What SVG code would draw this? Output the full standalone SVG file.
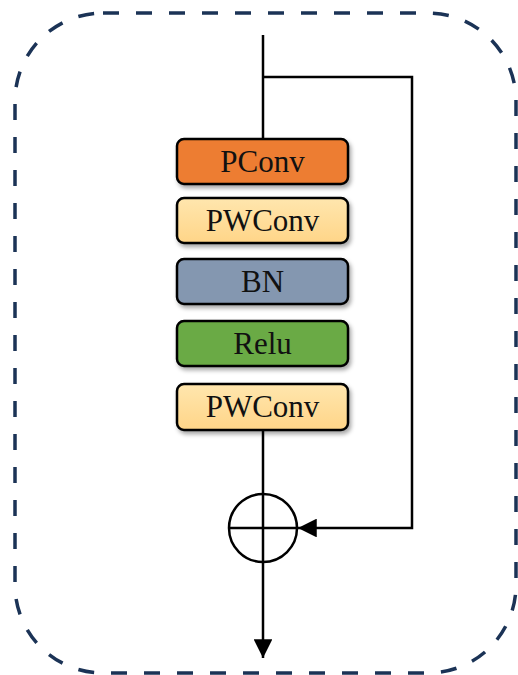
<svg xmlns="http://www.w3.org/2000/svg" width="518" height="675" viewBox="0 0 518 675">
<defs>
<style>
.box{stroke:#000;stroke-width:2.5}
.lbl{font-family:"Liberation Serif","Times New Roman",serif;font-size:31px;fill:#111;text-anchor:middle;dominant-baseline:central}
.ln{stroke:#000;stroke-width:2.5;fill:none}
</style>
<filter id="sh" x="-10%" y="-20%" width="125%" height="150%">
<feDropShadow dx="2" dy="3" stdDeviation="2" flood-color="#000" flood-opacity="0.35"/>
</filter>
<linearGradient id="pw" x1="0" y1="0" x2="0" y2="1">
<stop offset="0" stop-color="#FFE6AE"/>
<stop offset="1" stop-color="#FFD588"/>
</linearGradient>
<marker id="ah" viewBox="0 0 10 10" refX="10" refY="5" markerWidth="7.5" markerHeight="7.5" markerUnits="strokeWidth" orient="auto">
<path d="M0,0 L10,5 L0,10 Z" fill="#000"/>
</marker>
</defs>
<rect x="15" y="13" width="501" height="660" rx="88" ry="88" fill="none" stroke="#1B3356" stroke-width="3.5" stroke-dasharray="16 17"/>
<g id="connectors">
<line class="ln" x1="263" y1="35" x2="263" y2="139"/>
<line class="ln" x1="263" y1="430" x2="263" y2="494"/>
<polyline class="ln" points="263,77 412,77 412,528 298,528" marker-end="url(#ah)"/>
<line class="ln" x1="263" y1="562" x2="263" y2="658" marker-end="url(#ah)"/>
</g>
<g id="add">
<circle cx="263" cy="528" r="34" fill="none" stroke="#000" stroke-width="2.5"/>
<line class="ln" x1="229" y1="528" x2="297" y2="528"/>
<line class="ln" x1="263" y1="494" x2="263" y2="562"/>
</g>
<g id="pconv">
<rect class="box" x="177" y="139" width="171" height="45" rx="7" fill="#ED7D31" filter="url(#sh)"/>
<text class="lbl" x="262.5" y="161">PConv</text>
</g>
<g id="pwconv1">
<rect class="box" x="177" y="198" width="171" height="45" rx="7" fill="url(#pw)" filter="url(#sh)"/>
<text class="lbl" x="262.5" y="220">PWConv</text>
</g>
<g id="bn">
<rect class="box" x="177" y="259" width="171" height="45" rx="7" fill="#8497B0" filter="url(#sh)"/>
<text class="lbl" x="262.5" y="281">BN</text>
</g>
<g id="relu">
<rect class="box" x="177" y="321" width="171" height="45" rx="7" fill="#6AAA45" filter="url(#sh)"/>
<text class="lbl" x="262.5" y="343">Relu</text>
</g>
<g id="pwconv2">
<rect class="box" x="177" y="384" width="171" height="46" rx="7" fill="url(#pw)" filter="url(#sh)"/>
<text class="lbl" x="262.5" y="406">PWConv</text>
</g>
</svg>
